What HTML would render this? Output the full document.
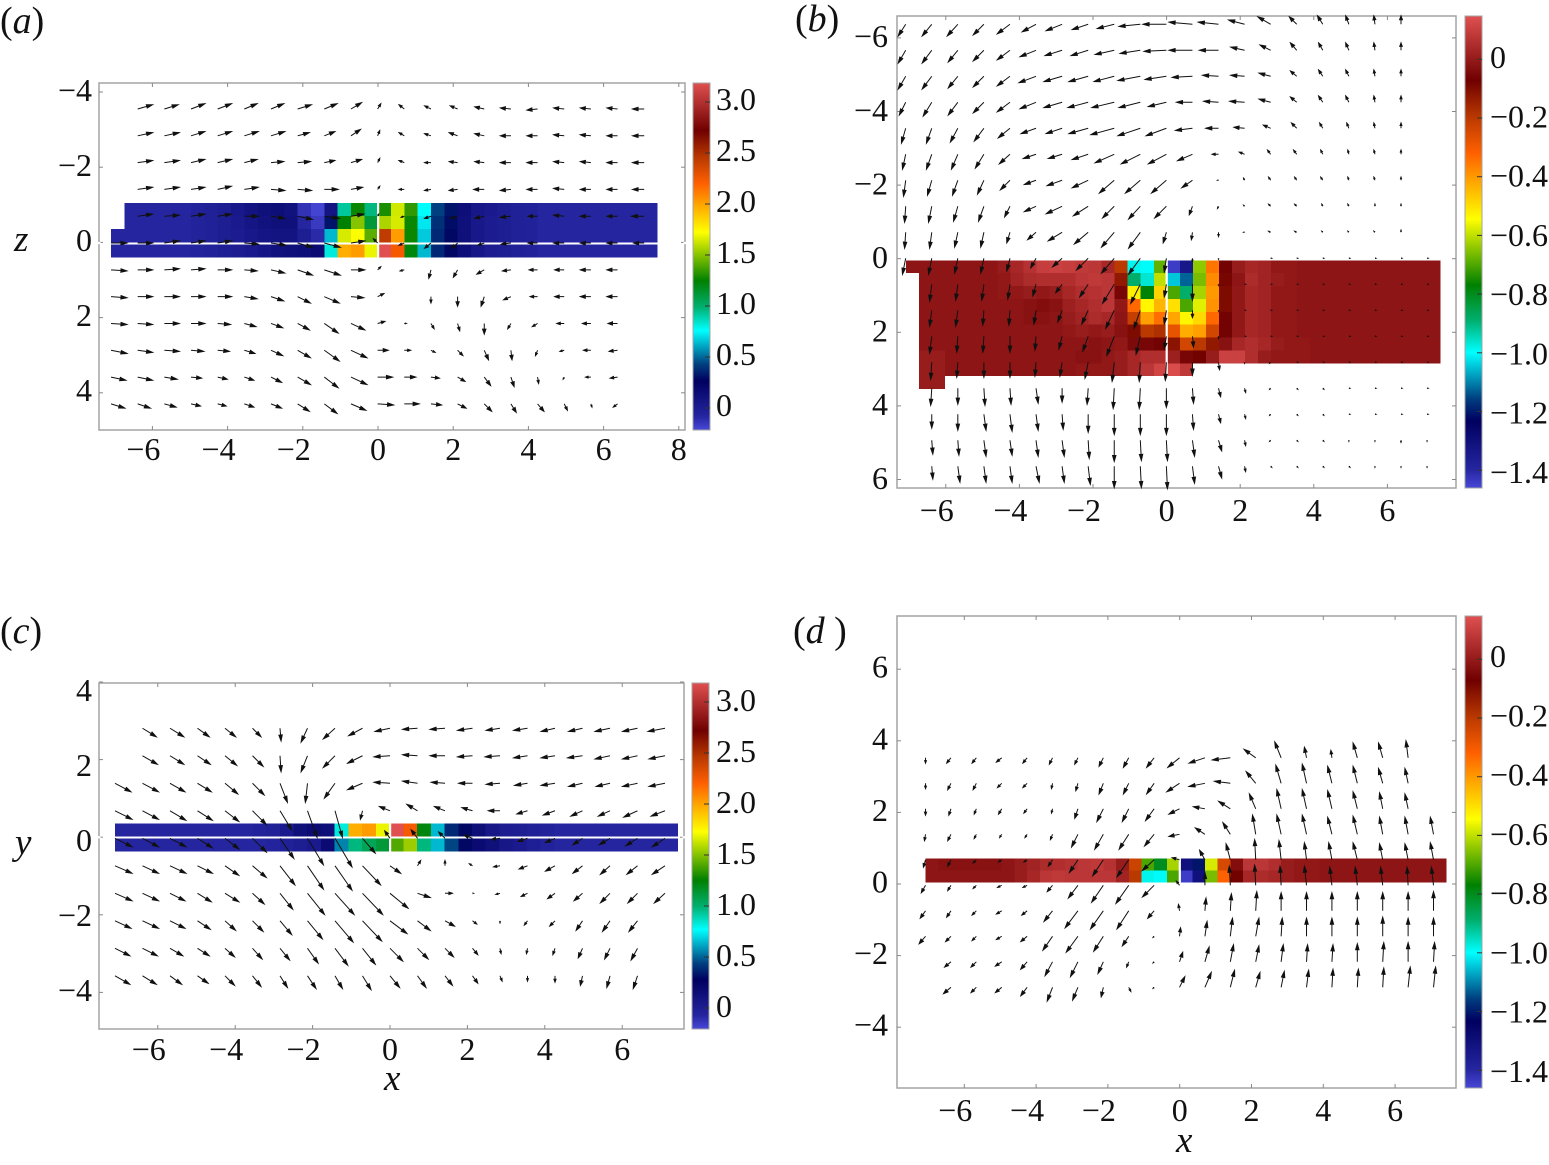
<!DOCTYPE html>
<html lang="en">
<head>
<meta charset="utf-8">
<title>Velocity vector and pressure heatmap panels</title>
<style>
html,body{margin:0;padding:0;background:#fff;}
svg{display:block;font-family:"Liberation Serif",serif;}
text{fill:#111;}
</style>
</head>
<body>
<svg id="chart" xmlns="http://www.w3.org/2000/svg" width="1549" height="1165" viewBox="0 0 1549 1165">
<defs>
<linearGradient id="cbar" x1="0" y1="1" x2="0" y2="0"></linearGradient>
</defs>
<text x="0" y="33" font-size="38">(<tspan font-style="italic">a</tspan>)</text>
<text x="795" y="31" font-size="38">(<tspan font-style="italic">b</tspan>)</text>
<text x="0" y="643" font-size="38">(<tspan font-style="italic">c</tspan>)</text>
<text x="793" y="643" font-size="38">(<tspan font-style="italic">d</tspan> )</text>
<text x="14" y="251" font-size="37" font-style="italic">z</text>
<text x="15" y="854" font-size="37" font-style="italic">y</text>
<text x="384" y="1090" font-size="37" font-style="italic">x</text>
<text x="1176" y="1152" font-size="37" font-style="italic">x</text>
</svg>
<script>
const colourPos=[0,0.04,0.142,0.19,0.287,0.354,0.43,0.57,0.71,0.787,0.863,1];
const colourHex=['#4848d8','#2525a0','#000060','#004080','#00ffff','#00b070','#008000','#ffff00','#ff6000','#b83800','#700000','#e05050'];
const xTicks=[-6,-4,-2,0,2,4,6];
const xTicksA=[-6,-4,-2,0,2,4,6,8];
const yTicksA=[-4,-2,0,2,4];
const yTicksB=[-6,-4,-2,0,2,4,6];
const yTicksC=[4,2,0,-2,-4];
const yTicksD=[6,4,2,0,-2,-4];
const barTicksPos=[3,2.5,2,1.5,1,0.5,0];
const barLabelsPos=['3.0','2.5','2.0','1.5','1.0','0.5','0'];
const barTicksNeg=[0,-0.2,-0.4,-0.6,-0.8,-1,-1.2,-1.4];
const barLabelsNeg=['0','−0.2','−0.4','−0.6','−0.8','−1.0','−1.2','−1.4'];

const heatA=[
[null,-.1,-.1,-.1,-.1,-.1,-.07,-.05,-.03,.02,.07,.1,.12,.08,-.15,-.22,.06,.9,1.25,.95,1.28,1.62,1.32,.74,.41,.3,.12,.03,0,-.03,-.05,-.06,-.1,-.1,-.1,-.1,-.1,-.1,-.1,-.1,-.1],
[null,-.1,-.1,-.1,-.1,-.1,-.07,-.05,-.03,0,.05,.08,.1,.1,-.1,-.18,.3,1.23,1.48,1.1,1.55,1.63,1.25,.7,.37,.28,.1,.02,-.01,-.03,-.05,-.06,-.1,-.1,-.1,-.1,-.1,-.1,-.1,-.1,-.1],
[-.1,-.1,-.1,-.1,-.1,-.1,-.07,-.05,-.03,-.01,.02,.05,.07,.07,-.03,-.12,.62,1.63,1.7,1.4,2.42,2,1.25,.65,.35,.27,.1,.02,-.01,-.03,-.05,-.06,-.1,-.1,-.1,-.1,-.1,-.1,-.1,-.1,-.1],
[-.1,-.1,-.1,-.1,-.1,-.1,-.08,-.06,-.04,-.02,0,.04,.08,.1,.12,.15,.8,1.95,2,1.67,3.17,2.22,1.2,.62,.35,.27,.12,.03,-.02,-.03,-.05,-.07,-.1,-.1,-.1,-.1,-.1,-.1,-.1,-.1,-.1]
];
const heatC=[
[-.1,-.1,-.1,-.1,-.1,-.1,-.1,-.1,-.1,-.1,-.07,-.05,0,.1,.14,.12,.8,1.95,2,1.67,3.17,2.22,1.2,.62,.35,.27,.12,.03,-.02,-.03,-.05,-.07,-.1,-.1,-.1,-.1,-.1,-.1,-.1,-.1,-.1],
[-.1,-.1,-.1,-.1,-.1,-.1,-.1,-.1,-.1,-.1,-.1,-.08,-.05,-.03,0,.15,.53,.95,1.03,1.1,1.38,1.52,.95,.62,.42,.27,.15,.1,.03,0,-.04,-.07,-.1,-.1,-.1,-.1,-.1,-.1,-.1,-.1,-.1]
];
const heatB=[
[-.02,-.02,-.02,-.02,-.02,-.02,-.02,0,.03,.06,.09,.1,.09,.08,.07,.03,-.2,-.98,-.99,-.68,-1.43,-1.33,-.64,-.35,-.07,0,.03,.02,-.01,-.01,-.02,-.02,-.02,-.02,-.02,-.02,-.02,-.02,-.02,-.02,-.02],
[null,-.02,-.02,-.02,-.02,-.02,-.02,-.01,.02,.04,.05,.05,.05,.07,.08,.07,-.13,-.88,-.96,-.6,-1.04,-1.12,-.66,-.38,-.09,-.02,.04,.02,0,-.01,-.02,-.02,-.02,-.02,-.02,-.02,-.02,-.02,-.02,-.02,-.02],
[null,-.02,-.02,-.02,-.02,-.02,-.02,-.01,-.01,0,-.01,0,.03,.05,.06,.07,-.06,-.52,-.77,-.48,-.7,-.88,-.62,-.4,-.1,-.01,.03,.02,-.01,-.01,-.02,-.02,-.02,-.02,-.02,-.02,-.02,-.02,-.02,-.02,-.02],
[null,-.02,-.02,-.02,-.02,-.02,-.02,-.02,-.02,-.03,-.04,-.03,.01,.03,.05,.07,-.01,-.33,-.53,-.44,-.5,-.7,-.57,-.39,-.1,-.01,.03,.02,-.01,-.01,-.02,-.02,-.02,-.02,-.02,-.02,-.02,-.02,-.02,-.02,-.02],
[null,-.02,-.02,-.02,-.02,-.02,-.02,-.02,-.02,-.03,-.03,-.02,0,.02,.04,.03,-.02,-.22,-.41,-.34,-.42,-.53,-.49,-.33,-.07,-.01,.03,.02,-.01,-.01,-.02,-.02,-.02,-.02,-.02,-.02,-.02,-.02,-.02,-.02,-.02],
[null,-.02,-.02,-.02,-.02,-.02,-.02,-.02,-.02,-.02,-.02,-.02,-.01,0,-.01,0,-.03,-.1,-.2,-.18,-.28,-.43,-.41,-.24,-.07,-.01,.03,.02,-.01,-.01,-.02,-.02,-.02,-.02,-.02,-.02,-.02,-.02,-.02,-.02,-.02],
[null,-.02,-.02,-.02,-.02,-.02,-.02,-.02,-.02,-.02,-.02,-.02,-.02,-.02,-.03,-.02,-.01,-.05,-.06,-.07,-.12,-.24,-.2,-.13,-.03,.03,.05,.03,0,-.01,-.01,-.02,-.02,-.02,-.02,-.02,-.02,-.02,-.02,-.02,-.02],
[null,0,0,-.02,-.02,-.02,-.02,-.02,-.02,-.02,-.02,-.02,-.02,-.03,-.03,-.01,0,.03,.05,.05,.01,-.06,-.08,0,.1,.1,.05,0,-.01,-.01,-.01,-.02,-.02,-.02,-.02,-.02,-.02,-.02,-.02,-.02,-.02],
[null,0,0,-.02,-.02,-.02,-.02,-.02,-.02,-.02,-.02,-.02,-.02,-.01,-.01,-.01,0,.03,.07,.11,.13,.08],
[null,0,0]
];
const heatD=[
[-.02,-.03,-.03,-.03,-.03,-.03,-.02,0,.02,.04,.05,.06,.07,.08,.06,0,-.23,-.7,-.8,-.62,-1.3,-1.2,-.58,-.25,-.04,.07,.07,.05,0,-.01,-.01,-.02,-.02,-.02,-.02,-.02,-.02,-.02,-.02,-.02,-.02],
[-.02,-.02,-.02,-.02,-.02,-.02,-.02,0,.03,.07,.08,.07,.07,.07,.07,.02,-.2,-.98,-.99,-.7,-1.43,-1.3,-.66,-.32,-.08,.03,.04,.03,0,-.01,-.01,-.02,-.02,-.02,-.02,-.02,-.02,-.02,-.02,-.02,-.02]
];

const startA=[1,1,1,1,1,0,0,0,0,0,0,0];
const quiverA=[
[[14,-4],[13,-4],[13,-5],[13,-5],[12,-5],[12,-5],[13,-4],[12,-5],[10,-6],[3,-5],[-5,-4],[-6,-3],[-7,-3],[-9,-2],[-10,-1],[-10,1],[-10,-1],[-10,-1],[-10,-1],[-11,0]],
[[14,-3],[14,-3],[13,-4],[13,-4],[13,-4],[13,-4],[11,-3],[10,-4],[9,-6],[2,-5],[-5,-3],[-6,-2],[-8,-3],[-9,-2],[-10,0],[-10,0],[-10,-1],[-10,-1],[-10,0],[-11,0]],
[[14,-2],[14,-2],[13,-3],[13,-3],[12,-3],[12,-1],[12,-1],[10,-2],[10,-3],[2,-4],[-5,-2],[-6,0],[-8,-1],[-9,-1],[-10,0],[-10,0],[-10,-1],[-10,-1],[-10,0],[-11,0]],
[[14,-2],[14,-2],[13,-2],[13,-3],[13,-2],[13,1],[13,1],[13,0],[11,-2],[2,-3],[-5,0],[-6,1],[-8,1],[-10,0],[-10,1],[-10,0],[-10,-1],[-10,0],[-10,0],[-11,0]],
[[14,-2],[14,-1],[13,-2],[13,-2],[13,0],[13,2],[14,3],[14,2],[12,-2],[1,-2],[-3,1],[-6,2],[-7,2],[-9,2],[-10,1],[-9,0],[-10,-1],[-10,0],[-10,0],[-12,0]],
[[15,0],[14,0],[14,-2],[13,-2],[13,-2],[13,1],[14,2],[14,4],[15,4],[13,-2],[-4,-4],[-5,2],[-6,5],[-6,5],[-6,2],[-9,1],[-9,0],[-10,0],[-10,0],[-10,0],[-10,0]],
[[15,1],[14,0],[14,-1],[13,-1],[13,0],[12,1],[13,3],[14,5],[15,5],[13,0],[3,-3],[-4,1],[-2,8],[-4,7],[-7,4],[-8,1],[-8,0],[-9,0],[-10,0],[-10,0]],
[[15,1],[14,0],[14,0],[13,0],[13,0],[12,2],[12,4],[12,6],[14,6],[12,1],[6,-3],[0,0],[0,6],[0,9],[-3,9],[-7,3],[-7,0],[-9,0],[-10,0],[-10,0]],
[[15,1],[14,1],[14,0],[13,0],[12,1],[11,3],[11,4],[11,6],[13,9],[13,6],[7,-2],[2,0],[3,5],[2,7],[0,10],[-3,5],[-5,3],[-7,0],[-8,0],[-9,0]],
[[15,3],[14,2],[14,1],[12,1],[11,1],[10,3],[11,5],[12,7],[14,10],[15,7],[10,0],[6,0],[4,2],[5,5],[4,9],[1,9],[-2,5],[-4,1],[-7,0],[-8,1]],
[[14,3],[14,3],[12,2],[10,1],[9,2],[9,3],[10,5],[12,7],[13,10],[15,7],[14,0],[11,0],[8,1],[7,4],[6,8],[3,9],[1,6],[-1,2],[-5,0],[-7,1]],
[[13,4],[12,4],[11,3],[9,2],[8,2],[9,3],[10,4],[11,7],[12,9],[14,6],[15,1],[14,0],[10,1],[8,4],[7,7],[5,8],[6,7],[3,6],[1,3],[-4,3]]
];

const startB=[0,0,0,0,0,0,0,0,0,0,1,1,1,1,1,1,1,1];
const quiverB=[
[[-7,11],[-9,11],[-10,11],[-10,10],[-12,9],[-13,7],[-15,6],[-15,5],[-16,4],[-20,2],[-22,0],[-22,-2],[-19,-2],[-15,-4],[-12,-7],[-7,-7],[-5,-8],[-3,-8],[-1,-8],[0,-8]],
[[-7,12],[-9,12],[-9,11],[-10,10],[-12,9],[-15,6],[-16,5],[-16,5],[-18,4],[-19,3],[-21,1],[-22,0],[-18,0],[-13,-3],[-10,-5],[-6,-7],[-4,-7],[-3,-7],[-1,-7],[0,-7]],
[[-7,12],[-9,12],[-9,11],[-10,10],[-12,9],[-16,6],[-17,5],[-18,5],[-19,5],[-21,4],[-20,3],[-19,1],[-15,-1],[-13,-1],[-11,-3],[-6,-5],[-4,-6],[-3,-6],[-1,-6],[0,-6]],
[[-6,12],[-8,13],[-9,12],[-10,10],[-12,9],[-15,6],[-17,5],[-19,5],[-21,5],[-20,5],[-17,4],[-15,0],[-14,-1],[-14,-1],[-11,-3],[-6,-5],[-4,-6],[-3,-6],[-1,-6],[0,-6]],
[[-4,14],[-5,14],[-7,13],[-9,12],[-11,9],[-14,5],[-15,5],[-18,5],[-22,6],[-21,7],[-19,7],[-16,2],[-12,0],[-10,-1],[-7,-3],[-5,-5],[-3,-5],[-2,-5],[-1,-5],[0,-5]],
[[-3,14],[-5,14],[-6,14],[-8,13],[-10,9],[-12,4],[-13,4],[-15,5],[-18,8],[-18,9],[-17,9],[-14,6],[-6,0],[-5,-2],[-3,-4],[-3,-4],[-2,-4],[-1,-4],[-1,-4],[0,-4]],
[[-2,15],[-4,14],[-5,14],[-6,13],[-9,9],[-11,4],[-14,5],[-15,7],[-14,12],[-14,12],[-14,12],[-10,7],[-1,0],[-1,-2],[-2,-3],[-2,-3],[-2,-3],[-1,-3],[-1,-3],[0,-3]],
[[-1,15],[-3,15],[-4,14],[-5,14],[-5,10],[-11,5],[-15,7],[-14,9],[-11,11],[-11,12],[-11,11],[-3,8],[-1,2],[-1,-1],[-2,-2],[-2,-2],[-1,-2],[-1,-2],[0,-2],[0,-2]],
[[-1,15],[-2,15],[-3,14],[-3,14],[-3,10],[-8,7],[-13,8],[-13,11],[-12,14],[-11,15],[-3,10],[-1,7],[0,4],[-1,0],[-2,-1],[-2,-1],[-1,-1],[-1,-1],[-1,-1],[0,-2]],
[[-3,15],[-3,15],[-3,14],[-3,14],[-3,12],[-5,9],[-9,8],[-11,11],[-12,14],[-11,15],[-2,13],[0,3],[0,1],[0,0],[1,0],[1,0],[1,0],[1,0],[1,0],[1,0],[1,0]],
[[-2,16],[-2,15],[-2,15],[-2,14],[-3,11],[-6,8],[-8,12],[-11,18],[-9,18],[-2,12],[0,15],[0,1],[1,0],[1,0],[1,0],[1,0],[1,0],[1,0],[1,0],[1,0]],
[[-2,15],[-2,15],[-1,14],[-1,14],[-2,13],[-4,11],[-6,13],[-8,17],[-6,17],[-2,13],[0,7],[0,1],[1,0],[1,0],[1,0],[1,0],[1,0],[1,0],[1,0],[1,0]],
[[-2,16],[-1,15],[-1,15],[0,15],[-1,13],[-3,12],[-5,14],[-7,18],[-4,17],[-2,12],[1,10],[0,2],[1,0],[1,0],[1,0],[1,0],[1,0],[1,0],[1,0],[1,0]],
[[-1,16],[-1,14],[0,14],[0,14],[-1,13],[-2,13],[-3,15],[-2,18],[-1,18],[-1,17],[0,12],[1,7],[0,1],[-1,1],[1,0],[1,0],[1,0],[1,0],[1,0],[1,0]],
[[-1,16],[0,15],[1,16],[1,15],[2,14],[0,13],[-1,15],[-1,19],[-1,19],[0,18],[1,14],[2,8],[1,4],[-1,1],[1,1],[1,1],[1,0],[1,0],[1,0],[1,0]],
[[0,13],[0,15],[2,15],[2,16],[2,15],[1,14],[0,17],[0,19],[0,19],[0,19],[1,14],[2,8],[1,4],[-1,1],[1,1],[1,1],[1,0],[1,0],[1,0],[1,0]],
[[1,13],[1,14],[2,15],[2,14],[2,15],[2,15],[1,17],[0,20],[1,19],[1,19],[2,15],[3,10],[1,5],[-1,1],[1,1],[1,1],[0,1],[0,1],[0,2],[0,1]],
[[1,12],[2,15],[2,15],[2,15],[3,15],[2,15],[2,17],[0,20],[1,20],[1,21],[2,16],[3,11],[1,5],[1,1],[1,1],[1,1],[1,1],[0,1],[0,1],[0,1]]
];

const startC=[1,1,0,0,0,0,0,0,0,0];
const quiverC=[
[[13,8],[13,8],[11,8],[10,8],[8,8],[1,12],[-6,13],[-11,10],[-13,7],[-14,3],[-14,1],[-14,1],[-14,2],[-13,2],[-13,2],[-13,3],[-13,3],[-14,3],[-14,3],[-16,3]],
[[14,8],[13,8],[12,8],[11,9],[10,10],[1,15],[-6,15],[-11,11],[-14,7],[-15,1],[-14,-1],[-14,0],[-14,1],[-14,1],[-13,2],[-13,2],[-14,2],[-14,3],[-14,3],[-15,3]],
[[15,8],[15,8],[14,8],[13,8],[12,10],[11,11],[7,18],[-2,18],[-10,14],[-14,6],[-15,-1],[-14,-2],[-13,-1],[-13,0],[-13,1],[-12,2],[-13,2],[-13,3],[-13,3],[-14,3],[-15,3]],
[[16,8],[15,8],[15,9],[14,9],[13,10],[13,13],[11,18],[9,25],[7,25],[-2,8],[-10,-4],[-10,-6],[-10,-4],[-10,-3],[-11,0],[-10,3],[-11,4],[-11,5],[-11,5],[-13,6],[-13,5]],
[[16,8],[15,8],[15,8],[14,9],[13,10],[13,13],[13,19],[15,25],[16,27],[12,14],[-5,-7],[-6,-8],[-6,-6],[-8,-3],[-8,1],[-9,3],[-9,4],[-9,6],[-10,6],[-11,7],[-12,8]],
[[16,7],[15,7],[15,7],[14,7],[13,9],[13,11],[14,18],[15,22],[16,23],[17,18],[10,7],[3,-5],[0,-5],[-3,-2],[-6,1],[-8,3],[-9,5],[-9,7],[-9,8],[-10,8],[-12,8]],
[[16,7],[15,7],[14,7],[13,8],[13,8],[11,10],[12,15],[16,20],[18,20],[19,20],[17,14],[12,4],[7,0],[1,0],[-4,1],[-6,3],[-7,5],[-8,7],[-9,9],[-9,9],[-10,9]],
[[15,7],[15,7],[14,7],[12,8],[10,9],[10,10],[11,13],[14,17],[17,20],[18,19],[16,12],[12,9],[9,5],[4,3],[0,2],[-3,4],[-5,5],[-6,9],[-7,10],[-8,10]],
[[14,7],[14,7],[12,7],[11,7],[9,8],[9,10],[9,11],[10,14],[12,16],[12,15],[12,12],[10,10],[8,8],[5,6],[1,5],[-1,5],[-2,6],[-4,9],[-5,10],[-6,11]],
[[14,8],[13,8],[11,8],[10,7],[9,9],[8,10],[7,11],[8,12],[7,12],[8,13],[9,11],[8,11],[7,9],[5,7],[2,5],[0,5],[0,6],[-2,9],[-3,11],[-4,12]]
];

const startD=[0,0,0,0,0,0,0,0,1,1];
const quiverD=[
[[0,5],[-4,5],[-4,5],[-5,4],[-4,5],[-3,6],[-3,6],[-4,8],[-5,9],[-7,9],[-11,9],[-15,5],[-17,2],[-11,-8],[-6,-15],[-2,-10],[-1,-7],[-4,-14],[-4,-14],[-2,-16]],
[[0,5],[-3,6],[-3,6],[-4,4],[-4,4],[-1,5],[-2,7],[-4,10],[-5,10],[-7,10],[-12,8],[-15,3],[-15,-2],[-9,-11],[-5,-17],[-4,-18],[-4,-16],[-4,-16],[-4,-14],[-3,-14]],
[[0,6],[-2,6],[-2,5],[-3,5],[-3,4],[-1,4],[-3,9],[-6,12],[-6,12],[-8,11],[-10,5],[-11,-2],[-11,-7],[-6,-14],[-4,-18],[-4,-18],[-4,-17],[-4,-16],[-3,-15],[-3,-14]],
[[-1,6],[-3,6],[-2,4],[-2,3],[-2,3],[-2,5],[-6,12],[-8,14],[-9,14],[-9,11],[-10,2],[-9,-6],[-7,-11],[-3,-18],[-4,-18],[-4,-18],[-4,-16],[-4,-17],[-3,-16],[-3,-16],[-3,-16]],
[[-2,7],[-3,6],[-3,3],[-3,2],[-3,2],[-4,6],[-8,12],[-10,15],[-11,16],[-11,10],[-7,-2],[-5,-9],[-4,-15],[-1,-19],[-2,-18],[-2,-16],[-3,-16],[-4,-16],[-3,-15],[-3,-15],[-3,-16]],
[[-4,7],[-3,5],[-3,3],[-4,2],[-4,2],[-5,6],[-9,12],[-11,16],[-12,17],[-11,11],[-3,-4],[0,-12],[-1,-18],[-1,-19],[-1,-18],[-2,-18],[-2,-17],[-2,-17],[-2,-17],[-1,-17],[-2,-17]],
[[-5,7],[-4,6],[-4,4],[-5,3],[-5,4],[-8,10],[-12,16],[-12,17],[-11,17],[-6,7],[-1,-6],[1,-12],[1,-16],[1,-18],[0,-17],[0,-17],[0,-17],[0,-17],[0,-17],[0,-17],[0,-18]],
[[-6,7],[-5,5],[-4,4],[-5,3],[-6,5],[-9,13],[-11,15],[-9,14],[-6,9],[-1,1],[1,-8],[2,-14],[2,-17],[3,-17],[1,-17],[0,-17],[0,-17],[0,-17],[0,-18],[0,-17],[0,-17]],
[[-6,5],[-5,5],[-6,4],[-6,7],[-7,13],[-7,14],[-5,11],[-2,5],[-1,1],[3,-9],[4,-14],[3,-16],[3,-15],[2,-16],[1,-16],[1,-16],[0,-17],[1,-18],[0,-18],[1,-18]],
[[-7,6],[-5,5],[-6,5],[-6,8],[-5,13],[-5,12],[-2,9],[2,4],[-1,1],[5,-10],[6,-14],[4,-16],[4,-14],[3,-15],[2,-16],[1,-17],[1,-17],[1,-18],[2,-19],[2,-19]]
];

const svg=document.getElementById('chart');
const NS='http://www.w3.org/2000/svg';
function mk(tag,attrs,parent){
  const el=document.createElementNS(NS,tag);
  for(const k in attrs){el.setAttribute(k,attrs[k]);}
  (parent||svg).appendChild(el);
  return el;
}
function hexRgb(h){return [parseInt(h.slice(1,3),16),parseInt(h.slice(3,5),16),parseInt(h.slice(5,7),16)];}
function colourAt(t){
  t=Math.max(0,Math.min(1,t));
  let i=0;
  while(i<colourPos.length-2&&t>colourPos[i+1]){i++;}
  const f=(t-colourPos[i])/(colourPos[i+1]-colourPos[i]);
  const a=hexRgb(colourHex[i]),b=hexRgb(colourHex[i+1]);
  return 'rgb('+a.map(function(c,j){return Math.round(c+(b[j]-c)*f);}).join(',')+')';
}
const grad=document.getElementById('cbar');
colourPos.forEach(function(p,i){
  const s=document.createElementNS(NS,'stop');
  s.setAttribute('offset',p);
  s.setAttribute('stop-color',colourHex[i]);
  grad.appendChild(s);
});

function drawHeat(p,rows,rowTops,rowH,left,cellW,vmin,vmax){
  const g=mk('g',{'shape-rendering':'crispEdges'});
  
  
  rows.forEach(function(row,r){
    row.forEach(function(v,k){
      if(v===null||v===undefined){return;}
      const x1=p.X(left+k*cellW),x2=p.X(left+(k+1)*cellW);
      const y1=p.Y(rowTops[r]),y2=p.Y(rowTops[r]+rowH*p.ySign);
      const c=mk('rect',{x:x1,y:Math.min(y1,y2),width:x2-x1,height:Math.abs(y2-y1),fill:colourAt((v-vmin)/(vmax-vmin))},g);
      
      
    });
  });
}
function drawQuiver(p,rows,starts,x0,dx,y0,dy){
  const g=mk('g',{fill:'#111',stroke:'#111','stroke-width':'1'});
  
  
  rows.forEach(function(row,r){
    row.forEach(function(vec,j){
      const i=starts[r]+j;
      const tx=p.X(x0+i*dx),ty=p.Y(y0+r*dy);
      const hx=tx+vec[0]*1.06,hy=ty+vec[1]*1.06;
      const len=Math.hypot(vec[0],vec[1])||1;
      const ux=vec[0]/len,uy=vec[1]/len;
      const hl=Math.min(6,len*0.5),hw=Math.min(1.7,len*0.18);
      const bx=hx-ux*hl,by=hy-uy*hl;
      const d='M'+tx+' '+ty+'L'+bx+' '+by+'M'+hx+' '+hy+'L'+(bx-uy*hw)+' '+(by+ux*hw)+'L'+(bx+uy*hw)+' '+(by-ux*hw)+'Z';
      const a=mk('path',{d:d},g);
      
      
    });
  });
}
function drawAxes(p,xT,yT){
  const g=mk('g',{});
  
  
  const fr=mk('rect',{x:p.l,y:p.t,width:p.r-p.l,height:p.b-p.t,fill:'none',stroke:'#a4a4a4','stroke-width':'1.5'},g);
  
  
  xT.forEach(function(v){
    const x=p.X(v);
    [[p.t,p.t+4],[p.b,p.b-4]].forEach(function(s){
      const t=mk('line',{x1:x,x2:x,y1:s[0],y2:s[1],stroke:'#888','stroke-width':'1'},g);
      
      
    });
    const lab=mk('text',{x:v<0?x+8:x,y:p.xBase-1,'font-size':'32','text-anchor':v<0?'end':'middle'},g);
    lab.textContent=(v<0?'−':'')+Math.abs(v);
    
    
  });
  yT.forEach(function(v){
    const y=p.Y(v);
    [[p.l,p.l+4],[p.r,p.r-4]].forEach(function(s){
      const t=mk('line',{x1:s[0],x2:s[1],y1:y,y2:y,stroke:'#888','stroke-width':'1'},g);
      
      
    });
    const lab=mk('text',{x:p.yLabX,y:p.YL(v)+10,'font-size':'32','text-anchor':'end'},g);
    lab.textContent=(v<0?'−':'')+Math.abs(v);
    
    
  });
}
function drawBar(p,ticks,labels){
  const g=mk('g',{});
  
  
  const r=mk('rect',{x:p.barL,y:p.t,width:17,height:p.b-p.t,fill:'url(#cbar)',stroke:'#a4a4a4','stroke-width':'1'},g);
  
  
  ticks.forEach(function(v,i){
    const y=p.barY(v);
    const t=mk('line',{x1:p.barL+17,x2:p.barL+12,y1:y,y2:y,stroke:'#333','stroke-width':'1'},g);
    
    
    const lab=mk('text',{x:p.barTextX,y:p.barLabY(v)+10,'font-size':'32'},g);
    lab.textContent=labels[i];
    
    
  });
}
function gaps(p,vx,hy){
  const g=mk('g',{fill:'#fff'});
  
  
  if(vx){
    mk('rect',{x:p.X(0)-1,y:vx[0],width:2.2,height:vx[1]-vx[0]},g);
    mk('rect',{x:p.X(0)-1,y:p.t-1.5,width:2.2,height:3},g);
    mk('rect',{x:p.X(0)-1,y:p.b-1.5,width:2.2,height:3},g);
  }
  if(hy){
    mk('rect',{x:p.l-1.5,y:hy-1,width:3,height:2.2},g);
    mk('rect',{x:p.r-1.5,y:hy-1,width:3,height:2.2},g);
  }
}

const panelA={id:'a',l:99,r:685,t:83,b:430,ySign:1,X:function(x){return 378+37.6*x;},Y:function(y){return 242.4+37.6*y;},YL:function(y){return 241+37.5*y;},xBase:461,yLabX:92,barL:693,barTextX:716,barY:function(v){return 408-102*v;},barLabY:function(v){return 406-102*v;}};
const panelB={id:'b',l:897,r:1456,t:16,b:488,ySign:1,X:function(x){return 1166.6+36.8*x;},Y:function(y){return 258.7+36.8*y;},YL:function(y){return 258+36.8*y;},xBase:522,yLabX:888,barL:1465,barTextX:1490,barY:function(v){return 59.3-293.5*v;},barLabY:function(v){return 58-296.4*v;}};
const panelC={id:'c',l:99,r:684,t:683,b:1029,ySign:-1,X:function(x){return 390+38.7*x;},Y:function(y){return 837.2-38.8*y;},YL:function(y){return 841-37.5*y;},xBase:1061,yLabX:92,barL:692,barTextX:716,barY:function(v){return 1008-102*v;},barLabY:function(v){return 1007-102*v;}};
const panelD={id:'d',l:897,r:1456,t:616,b:1088,ySign:-1,X:function(x){return 1179.7+35.9*x;},Y:function(y){return 884-35.8*y;},YL:function(y){return 882.5-35.8*y;},xBase:1122,yLabX:888,barL:1465,barTextX:1490,barY:function(v){return 659.3-293.5*v;},barLabY:function(v){return 657-296.4*v;}};

drawHeat(panelA,heatA,[-1.05,-0.70,-0.35,0.05],0.354,-7.1,0.3546,-0.235,3.17);
drawHeat(panelB,heatB,[0.043,0.393,0.743,1.093,1.443,1.793,2.143,2.493,2.843,3.193],0.35,-7.08,0.3543,-1.451,0.142);
drawHeat(panelC,heatC,[0.358,-0.03],0.335,-7.106,0.3548,-0.235,3.17);
drawHeat(panelD,heatD,[0.718,0.377],0.341,-7.08,0.3538,-1.451,0.142);

gaps(panelA,[203,258],243);
gaps(panelB,[258,378],null);
gaps(panelC,[823,852],837.2);
gaps(panelD,[858,883],null);

drawAxes(panelA,xTicksA,yTicksA);
drawAxes(panelB,xTicks,yTicksB);
drawAxes(panelC,xTicks,yTicksC);
drawAxes(panelD,xTicks,yTicksD);
gaps(panelA,null,243);
gaps(panelC,null,837.2);

drawQuiver(panelA,quiverA,startA,-7.1,0.709,-3.548,0.713);
drawQuiver(panelB,quiverB,startB,-7.09,0.7084,-6.37,0.7065);
drawQuiver(panelC,quiverC,startC,-7.106,0.7106,2.808,-0.709);
drawQuiver(panelD,quiverD,startD,-7.08,0.7075,3.525,-0.7123);

drawBar(panelA,barTicksPos,barLabelsPos);
drawBar(panelB,barTicksNeg,barLabelsNeg);
drawBar(panelC,barTicksPos,barLabelsPos);
drawBar(panelD,barTicksNeg,barLabelsNeg);
</script>
</body>
</html>
